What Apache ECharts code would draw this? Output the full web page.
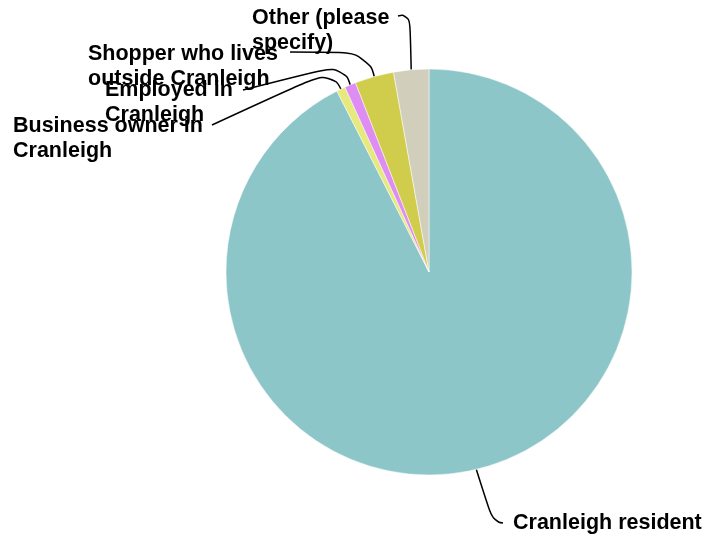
<!DOCTYPE html>
<html>
<head>
<meta charset="utf-8">
<script src="https://cdn.jsdelivr.net/npm/echarts@6/dist/echarts.min.js"></script>
<style>html,body{margin:0;padding:0;background:#fff}#chart{width:706px;height:541px}</style>
</head>
<body>
<div id="chart"></div>
<script>
var categories = ["Cranleigh resident", "Business owner in\nCranleigh", "Employed in\nCranleigh", "Shopper who lives\noutside Cranleigh", "Other (please\nspecify)"];
var values = [92.6, 0.7, 0.9, 3.1, 2.8];
var colors = ["#8dc6c8", "#e6e97c", "#de8ef2", "#d1cd4c", "#d1cebc"];

// label placement (layout only): left x of text, centre y of first line, line elbow, line end
var labelLeft = [513, 13, 105, 88, 252];
var labelMidY = [523, 126, 90, 54, 18];
var elbows = [[493, 522], [331, 70], [344, 64], [368, 52], [410, 13]];
var ends = [[503, 523], [212, 125], [243, 90], [290, 52], [398, 16]];

var chart = echarts.init(document.getElementById('chart'));
chart.setOption({
  animation: false,
  series: [{
    type: 'pie',
    center: [429, 272],
    radius: 203,
    startAngle: 90,
    clockwise: true,
    data: categories.map(function (c, i) {
      return { name: c, value: values[i], itemStyle: { color: colors[i] } };
    }),
    itemStyle: { borderColor: '#ffffff', borderWidth: 0.5 },
    label: {
      show: true,
      formatter: '{b}',
      color: '#000',
      fontFamily: 'Liberation Sans, Arial, sans-serif',
      fontWeight: 'bold',
      fontSize: 21.5,
      lineHeight: 25,
      align: 'left',
      overflow: 'none',
      width: 300
    },
    labelLine: {
      show: true,
      smooth: 0.6,
      lineStyle: { color: '#000', width: 1.5 }
    },
    labelLayout: function (params) {
      var i = params.dataIndex;
      var p0 = params.labelLinePoints ? params.labelLinePoints[0] : ends[i];
      return {
        x: labelLeft[i],
        y: labelMidY[i] - 12.5,
        align: 'left',
        verticalAlign: 'top',
        moveOverlap: false,
        hideOverlap: false,
        labelLinePoints: [p0, elbows[i], ends[i]]
      };
    },
    emphasis: { disabled: true }
  }]
});
</script>
</body>
</html>
